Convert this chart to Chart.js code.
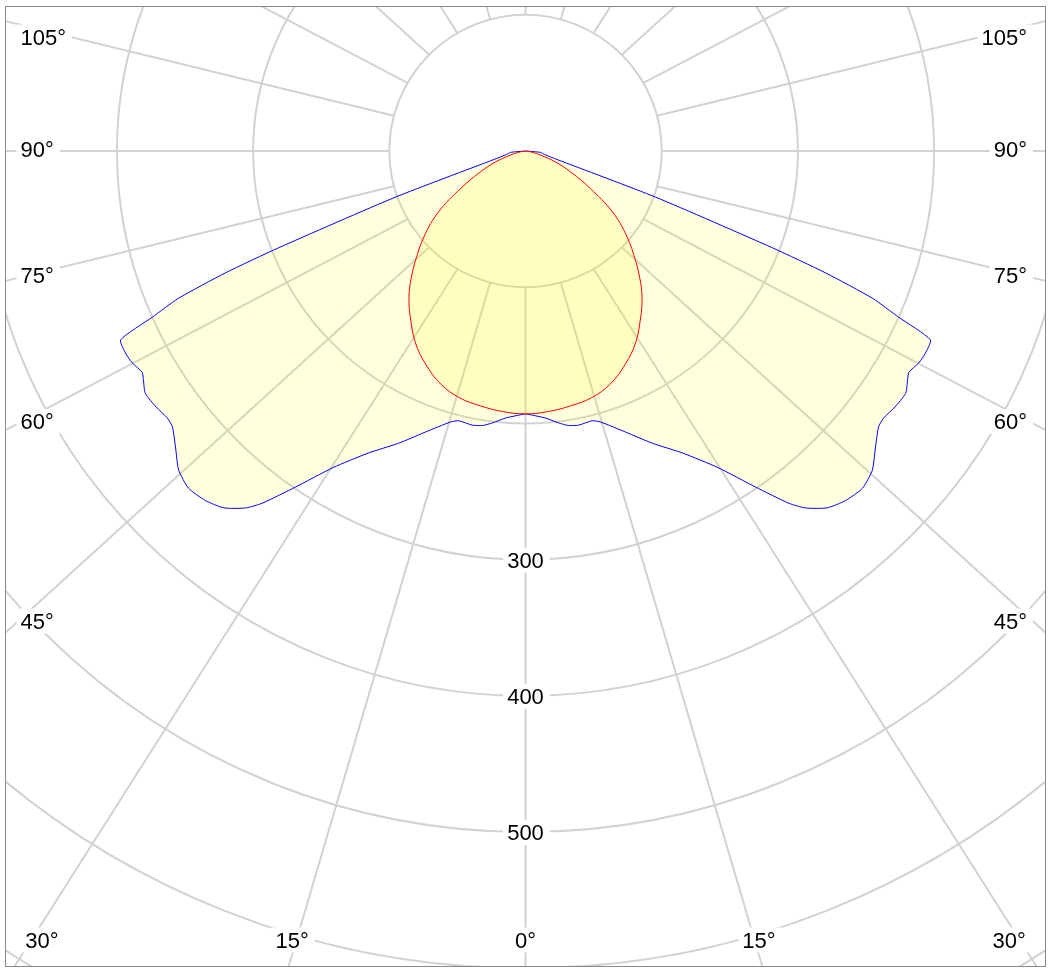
<!DOCTYPE html>
<html>
<head>
<meta charset="utf-8">
<script src="https://cdn.jsdelivr.net/npm/chart.js@4.4.1/dist/chart.umd.min.js"></script>
<style>
html,body{margin:0;padding:0;background:#fff;overflow:hidden;}
canvas{display:block;}
</style>
</head>
<body>
<canvas id="c" width="1053" height="976"></canvas>
<script>
// ---- data (angles in degrees from nadir, intensity values) ----
const blueAngles = [0, 1.5, 4.3, 6.9, 8.9, 11, 13.9, 15.5, 19.6, 23.5, 27.5, 31.3, 34.4, 36.8, 38.1, 40.2, 42.5, 45, 47.4, 49.8, 52, 53.3, 55.3, 57.5, 59.1, 60, 61.7, 63.2, 65, 66, 67, 67.9, 68.6, 70.5, 75, 80, 85, 90];
const blueValues = [193, 194, 196.6, 201, 204, 205, 204, 206.5, 219, 234, 250, 272, 299, 323, 333, 343, 348, 350, 346, 336.5, 329, 328, 330, 331, 327, 325, 328, 329, 328, 300, 277, 238, 195, 101, 24, 14, 11, 0];
const redAngles = [0, 5, 10, 15, 20, 25, 30, 35, 37.5, 40, 42.5, 45, 50, 55, 60, 65, 70, 75, 80, 85, 90];
const redValues = [193, 192, 190, 187.5, 182, 173, 162, 147.7, 140.5, 132.6, 123.5, 114.5, 97, 78, 55, 37, 23.5, 11.5, 5, 1.5, 0];
const ringValues = [100, 200, 300, 400, 500, 600, 700, 800];
const ringLabelValues = [300, 400, 500];
const spokeAngles = [0, 15, 30, 45, 60, 75, 90, 105, 120, 135, 150, 165, 180, 195, 210, 225, 240, 255, 270, 285, 300, 315, 330, 345];
const sideLabelAngles = [105, 90, 75, 60, 45];
const bottomLabelAngles = [30, 15, 0];

// ---- build closed polar outlines (right half 90->0, left half 0->90) ----
function polarPoints(angles, values) {
  const pts = [];
  for (let i = angles.length - 1; i >= 0; i--) {
    const t = angles[i] * Math.PI / 180;
    pts.push({x: values[i] * Math.sin(t), y: -values[i] * Math.cos(t)});
  }
  for (let i = 1; i < angles.length; i++) {
    const t = angles[i] * Math.PI / 180;
    pts.push({x: -values[i] * Math.sin(t), y: -values[i] * Math.cos(t)});
  }
  return pts;
}

const GRID = 'rgb(210,210,210)';
const SKEW = 1.1;
const FONT = '22px "Liberation Sans", Arial, sans-serif';

const gridPlugin = {
  id: 'polarGrid',
  beforeDatasetsDraw(chart) {
    const {ctx, chartArea: a, scales: {x, y}} = chart;
    const P = (vx, vy) => [x.getPixelForValue(vx), y.getPixelForValue(vy)];
    const [cx, cy] = P(0, 0);
    ctx.save();
    ctx.beginPath();
    ctx.rect(a.left, a.top, a.right - a.left, a.bottom - a.top);
    ctx.clip();
    ctx.strokeStyle = GRID;
    ctx.lineWidth = 2;
    ringValues.forEach(v => {
      const r = Math.abs(y.getPixelForValue(-v) - cy);
      ctx.beginPath();
      ctx.arc(cx, cy, r, 0, Math.PI * 2);
      ctx.stroke();
    });
    const r0 = ringValues[0];
    spokeAngles.forEach(deg => {
      const t = deg * Math.PI / 180;
      const sx = Math.sin(t), sy = Math.cos(t);
      const [x0, y0] = P(r0 * sx, -r0 * sy);
      const L = 3000;
      const [x1, y1] = P(r0 * sx + L * SKEW * sx, -r0 * sy - L * sy);
      ctx.beginPath();
      ctx.moveTo(x0, y0);
      ctx.lineTo(x1, y1);
      ctx.stroke();
    });
    ctx.restore();
  }
};

function boxedText(ctx, text, x, yc, align) {
  ctx.font = FONT;
  const w = ctx.measureText(text).width;
  const left = align === 'left' ? x : (align === 'right' ? x - w : x - w / 2);
  ctx.fillStyle = '#fff';
  ctx.fillRect(left - 4, yc - 12, w + 10, 25);
  ctx.fillStyle = '#000';
  ctx.textAlign = align;
  ctx.textBaseline = 'alphabetic';
  ctx.fillText(text, x, yc + 8);
}

const labelPlugin = {
  id: 'polarLabels',
  afterDatasetsDraw(chart) {
    const {ctx, chartArea: a, scales: {x, y}} = chart;
    const cx = x.getPixelForValue(0), cy = y.getPixelForValue(0);
    ctx.save();
    ringLabelValues.forEach(v => {
      boxedText(ctx, String(v), cx, y.getPixelForValue(-v), 'center');
    });
    const D = cx - a.left - 48.5;
    sideLabelAngles.forEach(deg => {
      const t = deg * Math.PI / 180;
      const yc = Math.max(cy + D * Math.cos(t) / Math.sin(t), a.top + 33) - 2.5;
      boxedText(ctx, deg + '°', a.left + 15.5, yc, 'left');
      boxedText(ctx, deg + '°', a.right - 19, yc, 'right');
    });
    const yb = a.bottom - 27.5;
    const H = a.bottom - cy - 7;
    bottomLabelAngles.forEach(deg => {
      const t = deg * Math.PI / 180;
      if (deg === 0) {
        boxedText(ctx, deg + '°', cx, yb, 'center');
      } else {
        const off = H * Math.tan(t);
        boxedText(ctx, deg + '°', cx - off, yb, 'right');
        boxedText(ctx, deg + '°', cx + off, yb, 'left');
      }
    });
    ctx.restore();
  },
  afterDraw(chart) {
    const {ctx, chartArea: a} = chart;
    ctx.save();
    ctx.strokeStyle = '#8a8a8a';
    ctx.lineWidth = 1;
    ctx.strokeRect(a.left + 0.5, a.top + 0.5, a.right - a.left - 1, a.bottom - a.top - 1);
    ctx.restore();
  }
};

new Chart(document.getElementById('c'), {
  type: 'scatter',
  data: {
    datasets: [
      {
        label: 'C90-C270',
        data: polarPoints(redAngles, redValues),
        showLine: true,
        borderColor: '#ff0000',
        borderWidth: 1,
        backgroundColor: 'rgba(255,245,0,0.13)',
        fill: 'shape',
        pointRadius: 0,
        tension: 0.4
      },
      {
        label: 'C0-C180',
        data: polarPoints(blueAngles, blueValues),
        showLine: true,
        borderColor: '#0000ff',
        borderWidth: 1,
        backgroundColor: 'rgba(255,255,0,0.13)',
        fill: 'shape',
        pointRadius: 0,
        tension: 0.2
      }
    ]
  },
  options: {
    responsive: false,
    animation: false,
    layout: {padding: {left: 5, top: 6, right: 7, bottom: 9}},
    scales: {
      x: {type: 'linear', display: false, min: -382.2, max: 382.2},
      y: {type: 'linear', display: false, min: -599.1, max: 106.5}
    },
    plugins: {legend: {display: false}, tooltip: {enabled: false}}
  },
  plugins: [gridPlugin, labelPlugin]
});
</script>
</body>
</html>
